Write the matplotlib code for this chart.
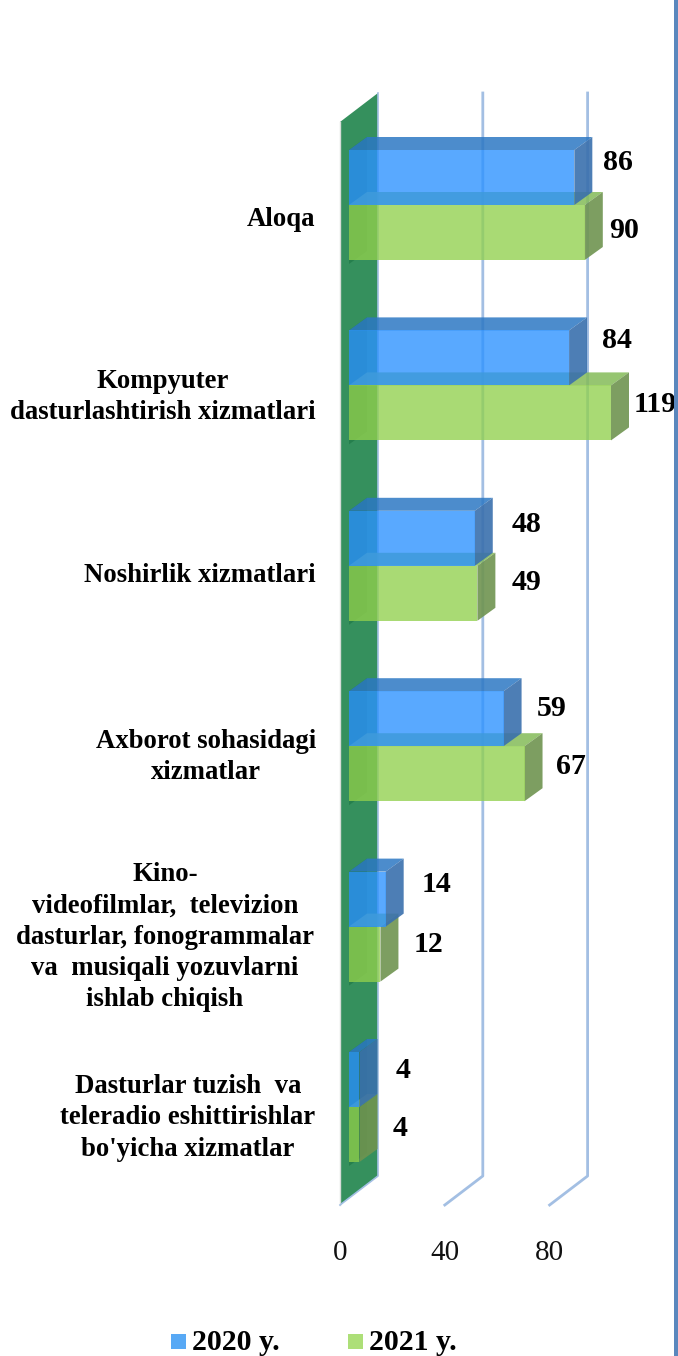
import matplotlib
matplotlib.use("Agg")
import matplotlib.pyplot as plt
from matplotlib.patches import Polygon, Rectangle

plt.rcParams['font.family'] = ['Liberation Serif', 'DejaVu Serif']

categories = [
    "Aloqa",
    "Kompyuter\ndasturlashtirish xizmatlari",
    "Noshirlik xizmatlari",
    "Axborot sohasidagi\nxizmatlar",
    "Kino-\nvideofilmlar,  televizion\ndasturlar, fonogrammalar\nva  musiqali yozuvlarni\nishlab chiqish",
    "Dasturlar tuzish  va\nteleradio eshittirishlar\nbo'yicha xizmatlar",
]
values_2020 = [86, 84, 48, 59, 14, 4]
values_2021 = [90, 119, 49, 67, 12, 4]
x_ticks = [0, 40, 80]
axis_max = 100  # the 119 bar is cut off by the axis

# pixel scale of the picture
W, H = 678, 1356
PX_PER_VALUE = 2.62
PX_PER_CAT = 180.4
X0, Y0 = 340, 205

fig = plt.figure(figsize=(W / 100, H / 100), dpi=100)
ax = fig.add_axes([0, 0, 1, 1])
ax.set_xlim(-X0 / PX_PER_VALUE, (W - X0) / PX_PER_VALUE)
ax.set_ylim((H - Y0) / PX_PER_CAT, -Y0 / PX_PER_CAT)
ax.axis("off")


def dx(px):
    return px / PX_PER_VALUE


def dy(px):
    return px / PX_PER_CAT


def py(px):
    return (px - Y0) / PX_PER_CAT


BAR_H = 55 / PX_PER_CAT
INSET = dx(9)
DEPTH_X, DEPTH_Y = dx(18), dy(13)
WALL_X, WALL_Y = dx(38), dy(29)
WALL_TOP, WALL_BOTTOM = py(122), py(1205)
GRID = "#a3bfe3"

# gridlines with their floor part
for t in x_ticks[1:]:
    ax.plot([t, t + WALL_X, t + WALL_X],
            [WALL_BOTTOM, WALL_BOTTOM - WALL_Y, WALL_TOP - WALL_Y],
            color=GRID, lw=2, zorder=1.5)

# back wall (zero plane)
ax.add_patch(Polygon([(0, WALL_TOP), (WALL_X, WALL_TOP - WALL_Y),
                      (WALL_X, WALL_BOTTOM - WALL_Y), (0, WALL_BOTTOM)],
                     fc="#35905d", ec="none", zorder=1))
ax.plot([0, 0], [WALL_TOP, WALL_BOTTOM], color="#d8dcd8", lw=1, zorder=1.1)
ax.plot([0, WALL_X, WALL_X], [WALL_BOTTOM, WALL_BOTTOM - WALL_Y, WALL_TOP - WALL_Y],
        color=GRID, lw=1.2, zorder=1.1)


def faces(y_top, val, top_c, side_c, z):
    x_end = INSET + val
    ax.add_patch(Polygon([(INSET, y_top), (INSET + DEPTH_X, y_top - DEPTH_Y),
                          (x_end + DEPTH_X, y_top - DEPTH_Y), (x_end, y_top)],
                         fc=top_c, ec="none", alpha=0.85, zorder=z))
    ax.add_patch(Polygon([(x_end, y_top), (x_end + DEPTH_X, y_top - DEPTH_Y),
                          (x_end + DEPTH_X, y_top + BAR_H - DEPTH_Y), (x_end, y_top + BAR_H)],
                         fc=side_c, ec="none", alpha=0.9, zorder=z))


for i in range(len(categories)):
    v20 = min(values_2020[i], axis_max)
    v21 = min(values_2021[i], axis_max)
    # shadow of the bars on the wall
    ax.add_patch(Polygon([(INSET, i - BAR_H), (INSET + DEPTH_X, i - BAR_H - DEPTH_Y),
                          (INSET + DEPTH_X, i + BAR_H - DEPTH_Y + dy(4)), (INSET, i + BAR_H + dy(4))],
                         fc="#1b7443", ec="none", alpha=0.6, zorder=1.2))
    faces(i, v21, "#84bb58", "#6f9450", 2)
    faces(i - BAR_H, v20, "#2c78c4", "#3a70ad", 3)
    ax.barh(i - BAR_H / 2, v20, left=INSET, height=BAR_H, color="#2c92ff", alpha=0.79, zorder=4)
    ax.barh(i + BAR_H / 2, v21, left=INSET, height=BAR_H, color="#91d04d", alpha=0.78, zorder=5)

# value labels
label_x_20 = [618, 617, 527, 552, 436, 403]
label_y_20 = [162, 340, 525, 708, 885, 1071]
label_x_21 = [624, 655, 527, 571, 429, 400]
label_y_21 = [230, 404, 582, 767, 944, 1128]
for i in range(len(categories)):
    ax.text((label_x_20[i] - X0) / PX_PER_VALUE, py(label_y_20[i]), str(values_2020[i]),
            fontsize=21.5, fontweight="bold", ha="center", va="center", zorder=6)
    ax.text((label_x_21[i] - X0) / PX_PER_VALUE, py(label_y_21[i]), str(values_2021[i]),
            fontsize=21.5, fontweight="bold", ha="center", va="center", zorder=6)

# category labels
cat_x = [281, 163, 200, 206, 165, 188]
cat_y = [220, 397, 576, 757, 937, 1118]
for i, c in enumerate(categories):
    ax.text((cat_x[i] - X0) / PX_PER_VALUE, py(cat_y[i]), c, fontsize=19.3, fontweight="bold",
            ha="center", va="center", multialignment="center", linespacing=1.33)

# tick labels
for t in x_ticks:
    ax.text(t, py(1253), str(t), fontsize=21, ha="center", va="center", color="#111111")

# legend
for lx, col, txt in [(171, "#58a9f5", "2020 y."), (348, "#addf78", "2021 y.")]:
    ax.add_patch(Rectangle(((lx - X0) / PX_PER_VALUE, py(1334)), 15 / PX_PER_VALUE, dy(15),
                           fc=col, ec="none"))
    ax.text((lx + 21 - X0) / PX_PER_VALUE, py(1342), txt, fontsize=21.5, fontweight="bold",
            ha="left", va="center")

# blue rule on the right edge
ax.add_patch(Rectangle(((674 - X0) / PX_PER_VALUE, py(0)), 4 / PX_PER_VALUE, dy(1356),
                       fc="#5a87bd", ec="none", zorder=7))

fig.savefig("out.png", dpi=100)
